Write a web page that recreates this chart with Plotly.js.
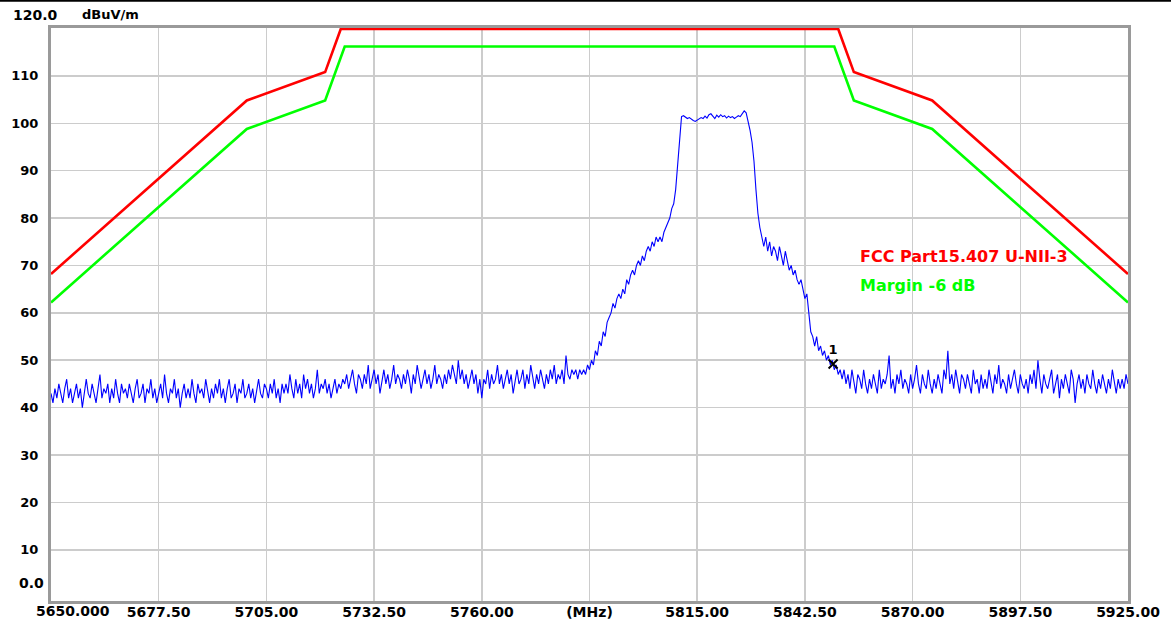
<!DOCTYPE html>
<html>
<head>
<meta charset="utf-8">
<script src="https://cdn.plot.ly/plotly-3.0.1.min.js"></script>
<style>
  html, body { margin: 0; padding: 0; background: #ffffff; }
  #chart { width: 1171px; height: 625px; }
</style>
</head>
<body>
<div id="chart"></div>
<script>
// ---------------- DATA ----------------
const sweepStep = 0.5; // MHz between sweep points

// Measured trace (dBuV/m), in segments with their start frequency (MHz)
const segStart = [5650, 5725, 5785.5, 5811, 5827.5, 5853.5];

const noiseLow = [
  43,41,44,42,45,43,41,44,46,42,
  44,41,43,45,42,44,40,43,46,43,
  42,45,43,41,44,47,42,44,43,45,
  41,44,42,46,43,41,45,43,44,42,
  45,43,41,44,46,42,43,45,41,44,
  43,46,42,44,41,43,45,42,47,43,
  41,44,43,46,42,44,40,43,45,42,
  44,42,46,43,41,45,43,44,42,46,
  43,41,44,42,45,43,46,42,44,41,
  44,46,42,43,45,41,44,43,46,42,
  43,45,42,44,41,44,46,43,42,45,
  44,42,45,43,46,42,44,41,45,43,
  45,43,47,44,42,46,43,45,42,47,
  44,46,43,45,42,44,48,43,45,44,
  46,43,45,42,44,46,43,45,44,46
];

const noiseMid = [
  45,47,44,46,48,45,43,47,46,44,
  47,45,49,44,46,48,45,47,43,46,
  48,45,47,44,46,49,45,47,46,44,
  47,45,48,46,43,47,45,49,46,44,
  46,48,45,47,44,46,49,45,47,46,
  44,47,45,48,46,49,47,45,50,46,
  48,45,47,44,46,48,45,47,43,46,
  42,46,45,48,44,47,45,46,49,45,
  47,44,46,48,45,47,43,46,48,45,
  46,48,44,47,45,49,46,44,47,45,
  48,46,44,47,45,48,46,49,45,47,
  46,48,45,51,47,46,48,47,48,46,
  48
];

const risingEdge = [
  47,48,47,49,48,50,49,52,51,54,
  53,56,55,58,59,60,62,61,63,64,
  63,65,64,67,66,68,69,68,70,71,
  70,72,71,73,74,73,75,74,76,75,
  76,75,77,78,79,80,82,83,86,91,
  97
];

const carrierTop = [
  101.4,101.6,101.3,101.0,101.2,100.8,100.6,100.4,100.7,101.0,
  101.2,101.0,101.5,101.1,101.8,102.0,101.4,101.0,101.7,101.3,
  101.8,101.4,101.6,101.1,101.5,101.2,101.4,101.0,101.3,101.6,
  101.4,102.0,102.6
];

const fallingEdge = [
  102.2,100.5,98.5,96,92,86,81,78,76,74,
  76,73,75,72,74,73,71,74,72,70,
  73,71,69,70,68,69,67,66,67,65,
  63,64,60,56,55,53,55,52,53,51,
  52,50,51,49,50,48,49,47,48,46,
  48,45
];

const noiseHigh = [
  47,44,48,45,43,47,46,44,48,45,
  43,46,44,47,45,43,48,44,46,45,
  47,51,44,46,43,47,45,48,44,46,
  45,43,47,44,46,49,45,43,47,45,
  44,48,45,43,46,44,47,45,43,48,
  46,52,45,47,44,48,45,43,47,46,
  44,47,45,43,48,45,46,43,47,44,
  46,44,48,45,43,47,45,49,44,46,
  45,43,47,44,46,48,45,43,47,45,
  44,46,43,47,45,48,44,50,46,43,
  47,45,44,46,48,43,45,47,42,46,
  44,47,45,43,48,46,41,45,47,44,
  46,43,47,45,44,48,45,43,46,44,
  47,45,43,46,44,48,45,43,46,44,
  46,44,47,45
];

// Limit lines
const limitFreq  = [5650, 5700, 5720, 5725, 5850, 5855, 5875, 5925];
const fccLimit   = [68.2, 104.8, 110.8, 122.2, 122.2, 110.8, 104.8, 68.2];
const marginLine = [62.2, 98.8, 104.8, 116.2, 116.2, 104.8, 98.8, 62.2];

// Marker 1
const markerFreq = [5849.7];
const markerLevel = [49.2];
const markerLabel = ['1'];

// Axes
const xTickVals = [5677.5, 5705, 5732.5, 5760, 5787.5, 5815, 5842.5, 5870, 5897.5, 5925];
const xTickText = ['5677.50','5705.00','5732.50','5760.00','(MHz)','5815.00','5842.50','5870.00','5897.50','5925.00'];
const yTickVals = [10,20,30,40,50,60,70,80,90,100,110];
const yTickText = ['10','20','30','40','50','60','70','80','90','100','110'];
const xRange = [5650, 5925];
const yRange = [-0.8, 120.1];
const yShowTop = 119.9;

// ---------------- BUILD ----------------
const segs = [noiseLow, noiseMid, risingEdge, carrierTop, fallingEdge, noiseHigh];
const traceX = [], traceY = [];
segs.forEach((arr, i) => {
  arr.forEach((v, j) => { traceX.push(segStart[i] + j * sweepStep); traceY.push(v); });
});

// clip limit line to the display top (as the analyser draws it)
function clampLine(xs, ys, top) {
  const ox = [], oy = [];
  for (let i = 0; i < xs.length; i++) {
    if (i > 0) {
      const a = ys[i-1], b = ys[i];
      if ((a - top) * (b - top) < 0) {
        const t = (top - a) / (b - a);
        ox.push(xs[i-1] + t * (xs[i] - xs[i-1])); oy.push(top);
      }
    }
    ox.push(xs[i]); oy.push(Math.min(ys[i], top));
  }
  return [ox, oy];
}
const [redX, redY] = clampLine(limitFreq, fccLimit, yShowTop);
const [grnX, grnY] = clampLine(limitFreq, marginLine, yShowTop);

const FONT = 'DejaVu Sans, Verdana, sans-serif';
const L = 51, R = 43, T = 28, B = 24;
const PW = 1171 - L - R, PH = 625 - T - B;
const px = (p) => (p - L) / PW;           // page x -> paper x
const py = (p) => (625 - B - p) / PH;     // page y -> paper y

const traces = [
  { x: grnX, y: grnY, mode: 'lines', line: { color: '#00ff00', width: 2.6 }, hoverinfo: 'skip' },
  { x: redX, y: redY, mode: 'lines', line: { color: '#ff0000', width: 2.6 }, hoverinfo: 'skip' },
  { x: traceX, y: traceY, mode: 'lines', line: { color: '#0000ff', width: 1.1 }, hoverinfo: 'skip' },
  { x: markerFreq, y: markerLevel, mode: 'markers+text', text: markerLabel, textposition: 'top center',
    textfont: { family: FONT, size: 13, color: '#000000', weight: 'bold' },
    marker: { symbol: 'x-thin', size: 9, line: { color: '#000000', width: 2 } }, cliponaxis: false, hoverinfo: 'skip' }
];

const layout = {
  width: 1171, height: 625,
  margin: { l: L, r: R, t: T, b: B, pad: 0 },
  paper_bgcolor: '#ffffff', plot_bgcolor: '#ffffff',
  showlegend: false, hovermode: false,
  font: { family: FONT, size: 14, color: '#000000', weight: 'bold' },
  xaxis: {
    range: xRange, tickmode: 'array', tickvals: xTickVals, ticktext: xTickText,
    showgrid: true, gridcolor: '#cccccc', gridwidth: 1.5, zeroline: false,
    showline: true, mirror: true, linecolor: '#9a9a9a', linewidth: 3,
    ticks: '', ticklabelstandoff: -4, layer: 'below traces',
    tickfont: { family: FONT, size: 14, color: '#000000', weight: 'bold' }
  },
  yaxis: {
    range: yRange, tickmode: 'array', tickvals: yTickVals, ticktext: yTickText,
    showgrid: true, gridcolor: '#cccccc', gridwidth: 1.5, zeroline: false,
    showline: true, mirror: true, linecolor: '#9a9a9a', linewidth: 3,
    ticks: '', ticklabelstandoff: 7, layer: 'below traces',
    tickfont: { family: FONT, size: 13, color: '#000000', weight: 'bold' }
  },
  shapes: [
    { type: 'line', xref: 'paper', yref: 'paper', x0: px(0), x1: px(1171), y0: py(0.8), y1: py(0.8),
      line: { color: '#000000', width: 2 } }
  ],
  annotations: [
    { text: '120.0', xref: 'paper', yref: 'paper', x: px(11), y: py(15), xanchor: 'left', yanchor: 'middle',
      showarrow: false, font: { family: FONT, size: 14, color: '#000000', weight: 'bold' } },
    { text: 'dBuV/m', xref: 'paper', yref: 'paper', x: px(80), y: py(15), xanchor: 'left', yanchor: 'middle',
      showarrow: false, font: { family: FONT, size: 13, color: '#000000', weight: 'bold' } },
    { text: '0.0', xref: 'paper', yref: 'paper', x: px(46), y: py(583), xanchor: 'right', yanchor: 'middle',
      showarrow: false, font: { family: FONT, size: 14, color: '#000000', weight: 'bold' } },
    { text: '5650.000', xref: 'paper', yref: 'paper', x: px(34), y: py(611), xanchor: 'left', yanchor: 'middle',
      showarrow: false, font: { family: FONT, size: 14, color: '#000000', weight: 'bold' } },
    { text: 'FCC Part15.407 U-NII-3', xref: 'paper', yref: 'paper', x: px(858), y: py(256), xanchor: 'left', yanchor: 'middle',
      showarrow: false, font: { family: FONT, size: 16, color: '#ff0000', weight: 'bold' } },
    { text: 'Margin -6 dB', xref: 'paper', yref: 'paper', x: px(858), y: py(285), xanchor: 'left', yanchor: 'middle',
      showarrow: false, font: { family: FONT, size: 16, color: '#00ff00', weight: 'bold' } }
  ]
};

Plotly.newPlot('chart', traces, layout, { staticPlot: true, displayModeBar: false });
</script>
</body>
</html>
